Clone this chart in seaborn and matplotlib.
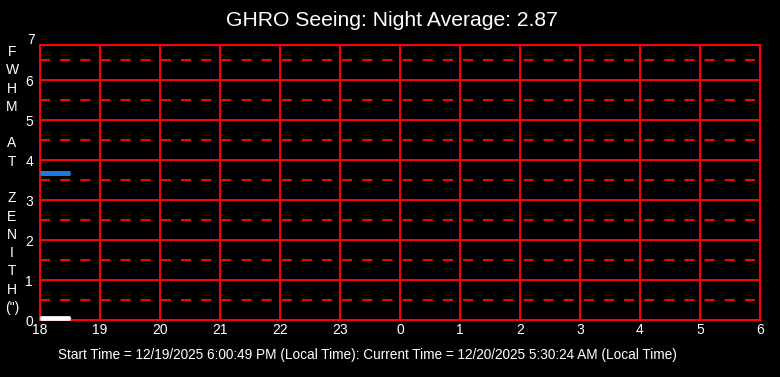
import matplotlib
matplotlib.use("Agg")
import matplotlib.pyplot as plt
import seaborn as sns
import pandas as pd

# ---- data ----
title_text = "GHRO Seeing: Night Average: 2.87"
footer_text = "Start Time = 12/19/2025 6:00:49 PM (Local Time): Current Time = 12/20/2025 5:30:24 AM (Local Time)"
ylabel_letters = ["F", "W", "H", "M", "", "A", "T", "", "Z", "E", "N", "I", "T", "H", "(\")"]
hour_ticks = [18, 19, 20, 21, 22, 23, 24, 25, 26, 27, 28, 29, 30]
hour_labels = ["18", "19", "20", "21", "22", "23", "0", "1", "2", "3", "4", "5", "6"]
y_ticks = [0, 1, 2, 3, 4, 5, 6]
seeing_hours = [18.0, 18.5]
seeing_fwhm = [3.67, 3.67]
base_hours = [18.0, 18.5]
base_values = [0.06, 0.06]

sns.set_style("dark")
plt.rcParams['font.family'] = ['Liberation Sans', 'DejaVu Sans']

fig = plt.figure(figsize=(7.8, 3.77), dpi=100, facecolor="black")
ax = fig.add_axes([40/780, (377-320)/377, 720/780, (320-45)/377])
ax.set_facecolor("black")

y_max = 6.875
ax.set_xlim(18, 30)
ax.set_ylim(0, y_max)

# grid lines
for h in hour_ticks:
    ax.axvline(h, color="#ff0000", lw=1.5, zorder=1)
for y in range(0, 7):
    ax.axhline(y, color="#ff0000", lw=1.5, zorder=1)
for y in [v + 0.5 for v in range(0, 7)]:
    ax.axhline(y, color="#ff0000", lw=1.45, ls=(0, (5, 5)), zorder=1)
for s in ax.spines.values():
    s.set_color("#ff0000")
    s.set_linewidth(1.5)

df_seeing = pd.DataFrame({"hour": seeing_hours, "fwhm": seeing_fwhm})
df_base = pd.DataFrame({"hour": base_hours, "fwhm": base_values})
for df, col, lw in [(df_seeing, "#1a7ae0", 3.6), (df_base, "white", 3.4)]:
    sns.lineplot(data=df, x="hour", y="fwhm", ax=ax, color=col, lw=lw,
                 solid_capstyle="butt", zorder=3, clip_on=False)
    sns.lineplot(data=df, x="hour", y="fwhm", ax=ax, color=col, lw=1.0,
                 solid_capstyle="projecting", zorder=3, clip_on=False)

ax.set_xticks(hour_ticks)
ax.set_xticklabels(hour_labels)
ax.set_yticks(y_ticks)
ax.tick_params(colors="white", labelsize=10, length=0, pad=2)
ax.tick_params(axis="y", pad=5)
for lab in ax.get_xticklabels() + ax.get_yticklabels():
    lab.set_color("white")
ax.text(-0.007, 7, "7", transform=ax.get_yaxis_transform(), ha="right", va="center",
        color="white", fontsize=10, clip_on=False)
ax.set_xlabel("")
ax.set_ylabel("")

fig.text(392/780, 1 - 21/377, title_text, ha="center", va="center", color="white", fontsize=15.2)
fig.text(12/780, 1 - 180/377, "\n".join(ylabel_letters), ha="center", va="center",
         color="white", fontsize=10, linespacing=1.39)
fig.text(367.5/780, 1 - 355/377, footer_text, ha="center", va="center", color="white", fontsize=9.8)

fig.savefig("out.png", dpi=100, facecolor="black")
